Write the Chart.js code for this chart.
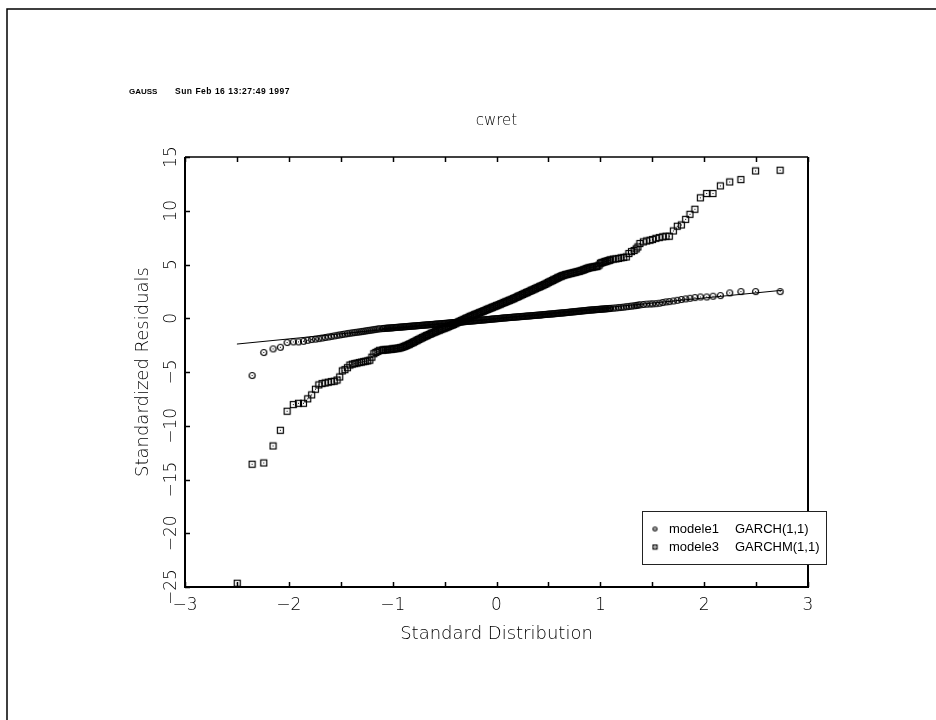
<!DOCTYPE html>
<html>
<head>
<meta charset="utf-8">
<title>cwret</title>
<script src="https://cdn.jsdelivr.net/npm/chart.js@4.4.1/dist/chart.umd.min.js"></script>
<style>
  body { margin: 0; background: #fff; }
  canvas { display: block; }
</style>
</head>
<body>
<canvas id="qqChart" width="936" height="720"></canvas>
<script>
// Normal quantiles (shared by both models) and the standardized residuals
const quantiles = [
  -2.497, -2.354, -2.241, -2.152, -2.082, -2.017, -1.957, -1.907, -1.859, -1.818,
  -1.780, -1.744, -1.711, -1.680, -1.650, -1.620, -1.591, -1.563, -1.536, -1.510,
  -1.485, -1.460, -1.436, -1.412, -1.389, -1.366, -1.344, -1.322, -1.301, -1.280,
  -1.260, -1.240, -1.220, -1.200, -1.181, -1.162, -1.143, -1.125,
  -1.100, -1.088, -1.075, -1.063, -1.050, -1.038, -1.025, -1.013,
  -1.000, -0.988, -0.975, -0.963, -0.950, -0.938, -0.925, -0.913,
  -0.900, -0.888, -0.875, -0.863, -0.850, -0.838, -0.825, -0.813,
  -0.800, -0.788, -0.775, -0.763, -0.750, -0.738, -0.725, -0.713,
  -0.700, -0.688, -0.675, -0.663, -0.650, -0.638, -0.625, -0.613,
  -0.600, -0.588, -0.575, -0.563, -0.550, -0.538, -0.525, -0.513,
  -0.500, -0.488, -0.475, -0.463, -0.450, -0.438, -0.425, -0.413,
  -0.400, -0.388, -0.375, -0.363, -0.350, -0.338, -0.325, -0.313,
  -0.300, -0.288, -0.275, -0.263, -0.250, -0.238, -0.225, -0.213,
  -0.200, -0.188, -0.175, -0.163, -0.150, -0.138, -0.125, -0.113,
  -0.100, -0.088, -0.075, -0.063, -0.050, -0.038, -0.025, -0.013,
  0.000, 0.013, 0.025, 0.038, 0.050, 0.063, 0.075, 0.088,
  0.100, 0.113, 0.125, 0.138, 0.150, 0.163, 0.175, 0.188,
  0.200, 0.213, 0.225, 0.238, 0.250, 0.263, 0.275, 0.288,
  0.300, 0.313, 0.325, 0.338, 0.350, 0.363, 0.375, 0.388,
  0.400, 0.413, 0.425, 0.438, 0.450, 0.463, 0.475, 0.488,
  0.500, 0.513, 0.525, 0.538, 0.550, 0.563, 0.575, 0.588,
  0.600, 0.613, 0.625, 0.638, 0.650, 0.663, 0.675, 0.688,
  0.700, 0.713, 0.725, 0.738, 0.750, 0.763, 0.775, 0.788,
  0.800, 0.813, 0.825, 0.838, 0.850, 0.863, 0.875, 0.888,
  0.900, 0.913, 0.925, 0.938, 0.950, 0.963, 0.975, 0.988,
  1.000, 1.013, 1.025, 1.038, 1.050, 1.063, 1.075, 1.088, 1.100,
  1.125, 1.150, 1.175, 1.200, 1.225, 1.250, 1.275, 1.300, 1.325, 1.345,
  1.362, 1.381, 1.414, 1.446, 1.478, 1.503, 1.535, 1.568, 1.600, 1.632,
  1.664, 1.703, 1.741, 1.780, 1.822, 1.863, 1.911, 1.963, 2.024, 2.085,
  2.156, 2.246, 2.354, 2.495, 2.731
];

// modele1 GARCH(1,1)
const residM1 = [
  null, -5.33, -3.19, -2.85, -2.70, -2.26, -2.20, -2.20, -2.14, -2.05,
  -1.98, -1.94, -1.89, -1.84, -1.79, -1.74, -1.69, -1.64, -1.59, -1.55,
  -1.51, -1.47, -1.43, -1.39, -1.36, -1.33, -1.30, -1.27, -1.24, -1.21,
  -1.18, -1.15, -1.12, -1.09, -1.06, -1.03, -1.00, -0.98,
  -0.96, -0.95, -0.94, -0.93, -0.92, -0.91, -0.90, -0.89,
  -0.88, -0.87, -0.86, -0.85, -0.84, -0.83, -0.82, -0.81,
  -0.80, -0.79, -0.78, -0.77, -0.76, -0.75, -0.74, -0.73,
  -0.72, -0.71, -0.70, -0.69, -0.68, -0.67, -0.66, -0.65,
  -0.64, -0.63, -0.62, -0.61, -0.60, -0.59, -0.58, -0.57,
  -0.56, -0.55, -0.54, -0.53, -0.52, -0.51, -0.50, -0.49,
  -0.48, -0.47, -0.46, -0.45, -0.43, -0.42, -0.41, -0.40,
  -0.39, -0.38, -0.37, -0.36, -0.35, -0.34, -0.33, -0.32,
  -0.30, -0.29, -0.28, -0.27, -0.26, -0.25, -0.24, -0.23,
  -0.22, -0.20, -0.19, -0.18, -0.17, -0.16, -0.15, -0.14,
  -0.13, -0.12, -0.11, -0.10, -0.08, -0.07, -0.06, -0.05,
  -0.04, -0.03, -0.02, -0.01, 0.01, 0.02, 0.03, 0.04,
  0.05, 0.06, 0.07, 0.08, 0.09, 0.10, 0.11, 0.12,
  0.13, 0.14, 0.15, 0.16, 0.17, 0.18, 0.19, 0.20,
  0.21, 0.22, 0.23, 0.24, 0.25, 0.26, 0.27, 0.28,
  0.29, 0.30, 0.31, 0.32, 0.34, 0.35, 0.36, 0.37,
  0.38, 0.39, 0.40, 0.41, 0.42, 0.43, 0.45, 0.46,
  0.47, 0.48, 0.49, 0.50, 0.51, 0.52, 0.54, 0.55,
  0.56, 0.57, 0.59, 0.60, 0.61, 0.62, 0.64, 0.65,
  0.66, 0.67, 0.69, 0.70, 0.71, 0.72, 0.74, 0.75,
  0.76, 0.77, 0.78, 0.79, 0.80, 0.81, 0.82, 0.83,
  0.84, 0.85, 0.86, 0.87, 0.88, 0.89, 0.90, 0.91, 0.92,
  0.94, 0.96, 0.99, 1.01, 1.04, 1.07, 1.10, 1.13, 1.16, 1.19,
  1.22, 1.25, 1.28, 1.31, 1.33, 1.34, 1.36, 1.40, 1.46, 1.52,
  1.55, 1.61, 1.67, 1.74, 1.80, 1.86, 1.92, 1.98, 1.98, 2.05,
  2.11, 2.36, 2.48, 2.48, 2.48
];

// modele3 GARCHM(1,1)
const residM3 = [
  -24.65, -13.58, -13.46, -11.88, -10.42, -8.65, -8.03, -7.91, -7.91, -7.50,
  -7.13, -6.60, -6.20, -6.08, -6.02, -5.95, -5.89, -5.86, -5.75, -5.46,
  -4.90, -4.78, -4.60, -4.35, -4.27, -4.22, -4.17, -4.12, -4.08, -4.04,
  -4.00, -3.96, -3.90, -3.62, -3.30, -3.18, -3.08, -2.98,
  -2.96, -2.95, -2.94, -2.93, -2.92, -2.91, -2.89, -2.88,
  -2.86, -2.85, -2.83, -2.81, -2.79, -2.77, -2.74, -2.71,
  -2.67, -2.62, -2.57, -2.52, -2.46, -2.41, -2.35, -2.29,
  -2.23, -2.17, -2.10, -2.04, -1.98, -1.92, -1.86, -1.80,
  -1.74, -1.68, -1.62, -1.57, -1.51, -1.46, -1.40, -1.35,
  -1.30, -1.25, -1.20, -1.15, -1.10, -1.05, -1.00, -0.96,
  -0.91, -0.87, -0.82, -0.77, -0.72, -0.67, -0.62, -0.57,
  -0.51, -0.45, -0.39, -0.33, -0.27, -0.22, -0.16, -0.11,
  -0.05, 0.01, 0.06, 0.12, 0.17, 0.22, 0.27, 0.32,
  0.37, 0.42, 0.47, 0.52, 0.57, 0.62, 0.67, 0.72,
  0.77, 0.82, 0.87, 0.92, 0.97, 1.02, 1.07, 1.12,
  1.17, 1.22, 1.27, 1.32, 1.37, 1.42, 1.47, 1.52,
  1.57, 1.62, 1.67, 1.72, 1.77, 1.83, 1.88, 1.94,
  1.99, 2.05, 2.10, 2.16, 2.21, 2.27, 2.32, 2.38,
  2.43, 2.49, 2.54, 2.60, 2.65, 2.71, 2.76, 2.82,
  2.87, 2.93, 2.98, 3.04, 3.09, 3.15, 3.20, 3.27,
  3.34, 3.40, 3.45, 3.51, 3.57, 3.63, 3.69, 3.75,
  3.81, 3.87, 3.92, 3.97, 4.01, 4.05, 4.08, 4.11,
  4.14, 4.17, 4.20, 4.23, 4.26, 4.29, 4.32, 4.35,
  4.38, 4.42, 4.46, 4.50, 4.55, 4.60, 4.64, 4.68,
  4.71, 4.74, 4.76, 4.78, 4.80, 4.83, 4.86, 4.95,
  5.12, 5.16, 5.20, 5.24, 5.28, 5.32, 5.36, 5.40, 5.44,
  5.50, 5.52, 5.56, 5.62, 5.66, 5.70, 6.02, 6.20, 6.30, 6.45,
  6.63, 6.95, 7.10, 7.19, 7.26, 7.32, 7.44, 7.50, 7.57, 7.63,
  7.63, 8.12, 8.56, 8.68, 9.20, 9.67, 10.14, 11.20, 11.60, 11.60,
  12.31, 12.68, 12.90, 13.70, 13.77
];

// reference line through modele1
const refLineX = [-2.50, 2.75];
const refLineY = [-2.40, 2.60];

const xTicks = [-3, -2, -1, 0, 1, 2, 3];
const xMinorTicks = [-2.5, -1.5, -0.5, 0.5, 1.5, 2.5];
const yTicks = [-25, -20, -15, -10, -5, 0, 5, 10, 15];

const seriesNames = ['modele1', 'modele3'];
const seriesModels = ['GARCH(1,1)', 'GARCHM(1,1)'];
const headerLabel = 'GAUSS';
const headerDate = 'Sun Feb 16 13:27:49 1997';

const FONT = "'DejaVu Sans', sans-serif";

function fmtNum(v) {
    return v < 0 ? '\u2212' + Math.abs(v) : String(v);
}

// small marker images: open symbol with a dot in the middle
function makeMarker(kind, size, r) {
    const c = document.createElement('canvas');
    c.width = size;
    c.height = size;
    const g = c.getContext('2d');
    const m = size / 2;
    g.strokeStyle = '#000';
    g.lineWidth = 1.2;
    if (kind === 'circle') {
        g.beginPath();
        g.arc(m, m, r, 0, Math.PI * 2);
        g.stroke();
    } else {
        g.strokeRect(m - r, m - r, r * 2, r * 2);
    }
    g.fillStyle = '#000';
    g.fillRect(Math.floor(m), Math.floor(m), 1, 1);
    return c;
}

const circleMark = makeMarker('circle', 9, 3);
const squareMark = makeMarker('square', 9, 3);
const circleSmall = makeMarker('circle', 7, 2);
const squareSmall = makeMarker('square', 7, 2);

function toPoints(ys) {
    return quantiles.map((x, i) => ({ x: x, y: ys[i] }));
}

const gaussPlugin = {
    id: 'gaussPlugin',
    beforeDraw(chart) {
        const ctx = chart.ctx;
        ctx.save();
        ctx.fillStyle = '#fff';
        ctx.fillRect(0, 0, chart.width, chart.height);
        // page border
        ctx.strokeStyle = '#000';
        ctx.lineWidth = 1.5;
        ctx.beginPath();
        ctx.moveTo(7, chart.height);
        ctx.lineTo(7, 9);
        ctx.lineTo(chart.width, 9);
        ctx.stroke();
        // header
        ctx.fillStyle = '#000';
        ctx.textBaseline = 'middle';
        ctx.font = "bold 8px 'Liberation Sans', sans-serif";
        ctx.fillText(headerLabel, 129, 92);
        ctx.letterSpacing = '0.5px';
        ctx.font = "bold 8.5px 'Liberation Sans', sans-serif";
        ctx.fillText(headerDate, 175, 92);
        ctx.restore();
    },
    afterDatasetsDraw(chart) {
        const ctx = chart.ctx;
        const a = chart.chartArea;
        const xs = chart.scales.x;
        const ys = chart.scales.y;
        ctx.save();
        ctx.strokeStyle = '#000';
        // plot frame
        ctx.lineWidth = 2;
        ctx.beginPath();
        ctx.moveTo(a.left, a.top);
        ctx.lineTo(a.left, a.bottom);
        ctx.lineTo(a.right, a.bottom);
        ctx.lineTo(a.right, a.top);
        ctx.stroke();
        ctx.lineWidth = 1.5;
        ctx.beginPath();
        ctx.moveTo(a.left, a.top);
        ctx.lineTo(a.right, a.top);
        ctx.stroke();
        // inward tick marks
        ctx.lineWidth = 1.5;
        ctx.beginPath();
        xTicks.concat(xMinorTicks).forEach(v => {
            const px = Math.round(xs.getPixelForValue(v)) + 0.5;
            ctx.moveTo(px, a.top);
            ctx.lineTo(px, a.top + 5);
            ctx.moveTo(px, a.bottom);
            ctx.lineTo(px, a.bottom - 5);
        });
        yTicks.forEach(v => {
            const py = Math.round(ys.getPixelForValue(v)) + 0.5;
            ctx.moveTo(a.left, py);
            ctx.lineTo(a.left + 5, py);
        });
        ctx.stroke();
        // rotated y tick labels
        ctx.fillStyle = '#000';
        ctx.font = '200 17px ' + FONT;
        ctx.textAlign = 'center';
        ctx.textBaseline = 'middle';
        yTicks.forEach(v => {
            const py = ys.getPixelForValue(v);
            ctx.save();
            ctx.translate(a.left - 13, py);
            ctx.rotate(-Math.PI / 2);
            ctx.fillText(fmtNum(v), 0, 0);
            ctx.restore();
        });
        ctx.restore();
    },
    afterDraw(chart) {
        const ctx = chart.ctx;
        ctx.save();
        // legend box
        ctx.fillStyle = '#fff';
        ctx.fillRect(642, 511, 184, 53);
        ctx.strokeStyle = '#222';
        ctx.lineWidth = 1;
        ctx.strokeRect(642.5, 511.5, 184, 53);
        const marks = [circleSmall, squareSmall];
        ctx.fillStyle = '#000';
        ctx.font = "13px 'Liberation Sans', sans-serif";
        ctx.textBaseline = 'middle';
        seriesNames.forEach((name, i) => {
            const y = 529 + i * 18;
            const m = marks[i];
            ctx.drawImage(m, 655 - m.width / 2, y - m.height / 2);
            ctx.fillText(name, 669, y);
            ctx.fillText(seriesModels[i], 735, y);
        });
        ctx.restore();
    }
};

const ctx = document.getElementById('qqChart');

new Chart(ctx.getContext('2d'), {
    type: 'scatter',
    data: {
        datasets: [{
            label: seriesNames[0] + ' ' + seriesModels[0],
            data: toPoints(residM1),
            pointStyle: circleMark,
            pointRadius: 3,
            showLine: false
        }, {
            label: seriesNames[1] + ' ' + seriesModels[1],
            data: toPoints(residM3),
            pointStyle: squareMark,
            pointRadius: 3,
            showLine: false
        }, {
            label: 'reference',
            data: refLineX.map((x, i) => ({ x: x, y: refLineY[i] })),
            showLine: true,
            borderColor: '#000',
            borderWidth: 1,
            pointRadius: 0
        }]
    },
    options: {
        responsive: false,
        animation: false,
        devicePixelRatio: 1,
        layout: {
            padding: { left: 120, right: 128, top: 0, bottom: 63 }
        },
        plugins: {
            legend: { display: false },
            tooltip: { enabled: false },
            title: {
                display: true,
                text: 'cwret',
                fullSize: false,
                color: '#000',
                font: { family: FONT, size: 15, weight: 200 },
                padding: { top: 112, bottom: 27 }
            }
        },
        scales: {
            x: {
                type: 'linear',
                min: -3,
                max: 3,
                afterBuildTicks: s => { s.ticks = xTicks.map(v => ({ value: v })); },
                afterFit: s => { s.height = 70; },
                grid: { display: false, drawTicks: false },
                border: { display: false },
                ticks: {
                    color: '#000',
                    padding: 8,
                    font: { family: FONT, size: 17, weight: 200 },
                    callback: v => fmtNum(v)
                },
                title: {
                    display: true,
                    text: 'Standard Distribution',
                    color: '#000',
                    font: { family: FONT, size: 18, weight: 200 },
                    padding: { top: 0, bottom: 12 }
                }
            },
            y: {
                type: 'linear',
                min: -25,
                max: 15,
                afterBuildTicks: s => { s.ticks = yTicks.map(v => ({ value: v })); },
                afterFit: s => { s.width = 65; },
                grid: { display: false, drawTicks: false },
                border: { display: false },
                ticks: { display: false },
                title: {
                    display: true,
                    text: 'Standardized Residuals',
                    color: '#000',
                    font: { family: FONT, size: 18, weight: 200 },
                    padding: { top: 13, bottom: 0 }
                }
            }
        }
    },
    plugins: [gaussPlugin]
});
</script>
</body>
</html>
